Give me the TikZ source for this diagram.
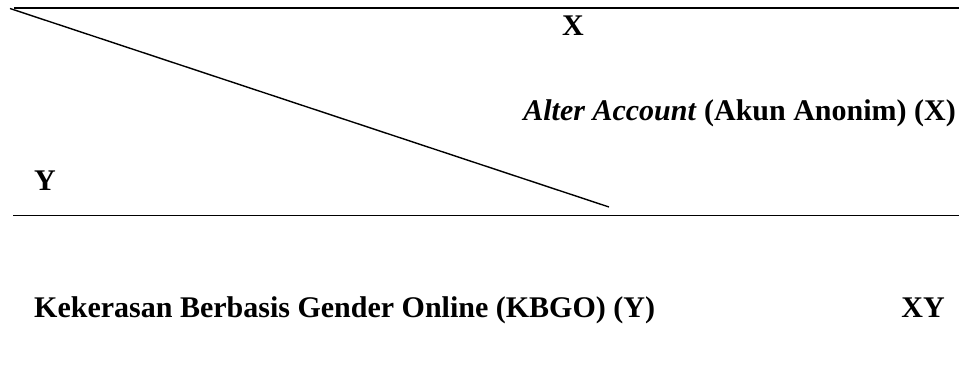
\documentclass[tikz,border=0pt]{standalone}
\usepackage{fontspec}
\setmainfont{Liberation Serif}
\usepackage{tikz}
\tikzstyle{lbl} = [inner sep=0pt, font={\fontsize{30}{34}\selectfont\bfseries}]
\tikzstyle{rule} = [draw=black, line width=1pt]
\tikzstyle{toprule} = [rule, line width=2pt]

\begin{document}
\begin{tikzpicture}[x=1pt,y=-1pt]
    \useasboundingbox (0,0) rectangle (959,366);
    \coordinate(tl) at (14,8.5);
    \coordinate(tr) at (959,8.5);
    \coordinate(dl) at (10,8.5);
    \coordinate(dr) at (609,207);
    \coordinate(bl) at (13,215.5);
    \coordinate(br) at (959,215.5);
    \draw[toprule](tl)--(tr);
    \draw[rule,line width=1.4pt](dl)--(dr);
    \draw[rule](bl)--(br);
    \node[lbl,anchor=base](x) at (573,36){X};
    \node[lbl,anchor=base east](alt) at (956,121){\textit{Alter Account} (Akun Anonim) (X)};
    \node[lbl,anchor=base west](y) at (34,191){Y};
    \node[lbl,anchor=base west](kbgo) at (34,317){Kekerasan Berbasis Gender Online (KBGO) (Y)};
    \node[lbl,anchor=base east](xy) at (945,317){XY};
  \end{tikzpicture}
\end{document}
